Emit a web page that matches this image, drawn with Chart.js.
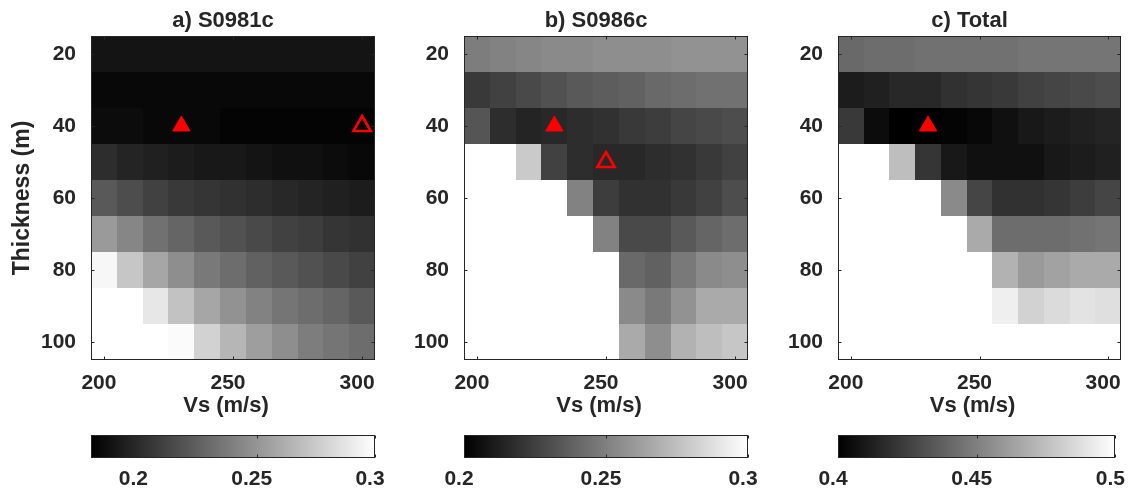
<!DOCTYPE html>
<html>
<head>
<meta charset="utf-8">
<script src="https://cdn.jsdelivr.net/npm/chart.js@4.4.1/dist/chart.umd.min.js"></script>
<style>
  html, body { margin: 0; padding: 0; background: #fff; }
  #wrap { position: relative; width: 1139px; height: 494px; }
  #wrap canvas { position: absolute; left: 0; top: 0; }
</style>
</head>
<body>
<div id="wrap">
  <canvas id="mapA" width="1139" height="494"></canvas>
  <canvas id="mapB" width="1139" height="494"></canvas>
  <canvas id="mapC" width="1139" height="494"></canvas>
  <canvas id="barA" width="1139" height="494"></canvas>
  <canvas id="barB" width="1139" height="494"></canvas>
  <canvas id="barC" width="1139" height="494"></canvas>
</div>
<script>
// grid axes
const vsValues = [200, 210, 220, 230, 240, 250, 260, 270, 280, 290, 300];
const thickValues = [20, 30, 40, 50, 60, 70, 80, 90, 100];
const vsTicks = [200, 250, 300];
const thickTicks = [20, 40, 60, 80, 100];

// misfit per thickness row (top to bottom), one value per Vs column; null = no model
const misfitS0981c = [
  [0.1896, 0.1895, 0.1894, 0.1894, 0.1894, 0.1894, 0.1894, 0.1894, 0.1894, 0.1894, 0.1894],
  [0.1854, 0.1853, 0.1852, 0.1852, 0.1852, 0.1852, 0.1852, 0.1852, 0.1852, 0.1852, 0.1852],
  [0.1871, 0.1861, 0.1856, 0.1847, 0.1838, 0.1833, 0.1828, 0.1824, 0.1824, 0.1824, 0.1824],
  [0.2012, 0.1979, 0.1960, 0.1941, 0.1927, 0.1913, 0.1904, 0.1889, 0.1880, 0.1871, 0.1856],
  [0.2219, 0.2158, 0.2115, 0.2078, 0.2049, 0.2026, 0.2007, 0.1988, 0.1969, 0.1951, 0.1936],
  [0.2525, 0.2426, 0.2341, 0.2275, 0.2224, 0.2176, 0.2148, 0.2115, 0.2082, 0.2054, 0.2031],
  [0.2944, 0.2727, 0.2576, 0.2464, 0.2379, 0.2313, 0.2266, 0.2228, 0.2186, 0.2153, 0.2115],
  [0.3150, 0.3050, 0.2882, 0.2704, 0.2576, 0.2487, 0.2416, 0.2355, 0.2308, 0.2271, 0.2228],
  [0.3300, 0.3200, 0.3050, 0.2967, 0.2784, 0.2652, 0.2548, 0.2464, 0.2393, 0.2346, 0.2308]
];
const misfitS0986c = [
  [0.2486, 0.2506, 0.2522, 0.2533, 0.2541, 0.2549, 0.2557, 0.2561, 0.2565, 0.2569, 0.2573],
  [0.2231, 0.2263, 0.2290, 0.2318, 0.2345, 0.2369, 0.2388, 0.2408, 0.2424, 0.2439, 0.2451],
  [0.2341, 0.2176, 0.2153, 0.2157, 0.2176, 0.2200, 0.2224, 0.2247, 0.2271, 0.2290, 0.2310],
  [null, null, 0.2784, 0.2251, 0.2176, 0.2169, 0.2161, 0.2176, 0.2196, 0.2224, 0.2259],
  [null, null, null, null, 0.2502, 0.2235, 0.2200, 0.2200, 0.2227, 0.2255, 0.2310],
  [null, null, null, null, null, 0.2510, 0.2294, 0.2294, 0.2345, 0.2396, 0.2435],
  [null, null, null, null, null, null, 0.2416, 0.2384, 0.2478, 0.2545, 0.2553],
  [null, null, null, null, null, null, 0.2541, 0.2475, 0.2573, 0.2659, 0.2659],
  [null, null, null, null, null, null, 0.2663, 0.2553, 0.2702, 0.2737, 0.2769]
];
const misfitTotal = [
  [0.4416, 0.4424, 0.4431, 0.4439, 0.4443, 0.4447, 0.4451, 0.4455, 0.4459, 0.4463, 0.4467],
  [0.4114, 0.4137, 0.4157, 0.4169, 0.4192, 0.4212, 0.4231, 0.4251, 0.4267, 0.4282, 0.4298],
  [0.4227, 0.4055, 0.4012, 0.4008, 0.4020, 0.4043, 0.4071, 0.4094, 0.4110, 0.4133, 0.4149],
  [null, null, 0.4745, 0.4208, 0.4094, 0.4075, 0.4067, 0.4078, 0.4098, 0.4118, 0.4137],
  [null, null, null, null, 0.4537, 0.4267, 0.4200, 0.4200, 0.4216, 0.4247, 0.4278],
  [null, null, null, null, null, 0.4667, 0.4431, 0.4424, 0.4424, 0.4451, 0.4467],
  [null, null, null, null, null, null, 0.4690, 0.4608, 0.4627, 0.4671, 0.4659],
  [null, null, null, null, null, null, 0.4937, 0.4824, 0.4855, 0.4878, 0.4863],
  [null, null, null, null, null, null, 0.5211, 0.5017, 0.5095, 0.5130, 0.5077]
];

// colour limits and colorbar ticks
const climS0981c = [0.18, 0.30];
const climS0986c = [0.20, 0.30];
const climTotal = [0.40, 0.50];
const cbTicksS0981c = [0.2, 0.25, 0.3];
const cbTicksS0986c = [0.2, 0.25, 0.3];
const cbTicksTotal = [0.4, 0.45, 0.5];

// best model (filled) and station minimum (open)
const bestModel = [{ x: 230, y: 40 }];
const minS0981c = [{ x: 300, y: 40 }];
const minS0986c = [{ x: 250, y: 50 }];

const FONT = "'Liberation Sans', Arial, Helvetica, sans-serif";
const INK = '#262626';

function grayFor(v, lo, hi) {
  const m = 64;
  let idx = Math.floor((v - lo) / (hi - lo) * m);
  idx = Math.max(0, Math.min(m - 1, idx));
  const g = Math.round(idx / (m - 1) * 255);
  return 'rgb(' + g + ',' + g + ',' + g + ')';
}

const heatmapPlugin = {
  id: 'heatmap',
  beforeDatasetsDraw(chart, args, opts) {
    const { x, y } = chart.scales;
    const ctx = chart.ctx;
    const dx = (vsValues[1] - vsValues[0]) / 2;
    const dy = (thickValues[1] - thickValues[0]) / 2;
    ctx.save();
    opts.grid.forEach((row, i) => {
      row.forEach((v, j) => {
        if (v === null) return;
        const x0 = Math.round(x.getPixelForValue(vsValues[j] - dx));
        const x1 = Math.round(x.getPixelForValue(vsValues[j] + dx));
        const y0 = Math.round(y.getPixelForValue(thickValues[i] - dy));
        const y1 = Math.round(y.getPixelForValue(thickValues[i] + dy));
        ctx.fillStyle = grayFor(v, opts.clim[0], opts.clim[1]);
        ctx.fillRect(x0, y0, x1 - x0, y1 - y0);
      });
    });
    ctx.restore();
  }
};

const framePlugin = {
  id: 'frame',
  afterDraw(chart, args, opts) {
    const a = chart.chartArea;
    const ctx = chart.ctx;
    const L = Math.round(a.left) + 0.5, R = Math.round(a.right) - 0.5;
    const T = Math.round(a.top) + 0.5, B = Math.round(a.bottom) - 0.5;
    ctx.save();
    ctx.strokeStyle = INK;
    ctx.lineWidth = 1;
    ctx.strokeRect(L, T, R - L, B - T);
    const len = opts.tick || 3;
    ctx.beginPath();
    (chart.scales.x.ticks || []).forEach(t => {
      const px = Math.round(chart.scales.x.getPixelForValue(t.value)) + 0.5;
      ctx.moveTo(px, B); ctx.lineTo(px, B - len);
      ctx.moveTo(px, T); ctx.lineTo(px, T + len);
    });
    if (chart.scales.y.options.display !== false) {
      (chart.scales.y.ticks || []).forEach(t => {
        const py = Math.round(chart.scales.y.getPixelForValue(t.value)) + 0.5;
        ctx.moveTo(L, py); ctx.lineTo(L + len, py);
        ctx.moveTo(R, py); ctx.lineTo(R - len, py);
      });
    }
    ctx.stroke();
    ctx.restore();
  }
};

const panelTextPlugin = {
  id: 'panelText',
  afterDraw(chart, args, opts) {
    const a = chart.chartArea;
    const ctx = chart.ctx;
    const cx = (a.left + a.right) / 2;
    ctx.save();
    ctx.fillStyle = INK;
    ctx.textAlign = 'center';
    ctx.textBaseline = 'alphabetic';
    ctx.font = 'bold 22px ' + FONT;
    ctx.fillText(opts.title, cx - 10, a.top - 9.5);
    ctx.fillText(opts.xlabel, cx - 7, a.bottom + 52);
    ctx.restore();
  }
};

const colorbarPlugin = {
  id: 'colorbar',
  beforeDatasetsDraw(chart) {
    const x = chart.scales.x;
    const a = chart.chartArea;
    const ctx = chart.ctx;
    const grad = ctx.createLinearGradient(x.getPixelForValue(x.min), 0, x.getPixelForValue(x.max), 0);
    grad.addColorStop(0, '#000000');
    grad.addColorStop(1, '#ffffff');
    ctx.save();
    ctx.fillStyle = grad;
    ctx.fillRect(a.left, a.top, a.right - a.left, a.bottom - a.top);
    ctx.restore();
  }
};

function tickFont() {
  return { family: FONT, size: 21, weight: 'bold' };
}

function makeMap(id, grid, clim, markers, pad, yWidth, title, showYTitle) {
  const datasets = [
    {
      data: bestModel, pointStyle: 'triangle', pointRadius: 10,
      backgroundColor: '#ff0000', borderColor: '#ff0000', borderWidth: 1, clip: false
    }
  ];
  if (markers) {
    datasets.push({
      data: markers, pointStyle: 'triangle', pointRadius: 10,
      backgroundColor: 'rgba(0,0,0,0)', borderColor: '#ff0000', borderWidth: 2.6, clip: false
    });
  }
  return new Chart(document.getElementById(id), {
    type: 'scatter',
    data: { datasets },
    options: {
      responsive: false,
      animation: false,
      events: [],
      layout: { padding: pad },
      plugins: {
        legend: { display: false },
        tooltip: { enabled: false },
        heatmap: { grid, clim },
        frame: { tick: 3 },
        panelText: { title, xlabel: 'Vs (m/s)' }
      },
      scales: {
        x: {
          type: 'linear', min: 195, max: 305, position: 'bottom',
          afterBuildTicks: s => { s.ticks = vsTicks.map(v => ({ value: v })); },
          afterFit: s => { s.height = 134; },
          grid: { display: false, drawTicks: false },
          border: { display: false },
          ticks: { font: tickFont(), color: INK, padding: 11, maxRotation: 0, labelOffset: -5 }
        },
        y: {
          type: 'linear', min: 15, max: 105, reverse: true,
          afterBuildTicks: s => { s.ticks = thickTicks.map(v => ({ value: v })); },
          afterFit: s => { s.width = yWidth; },
          grid: { display: false, drawTicks: false },
          border: { display: false },
          ticks: { font: tickFont(), color: INK, padding: 15 },
          title: {
            display: showYTitle, text: 'Thickness (m)', color: INK,
            font: { family: FONT, size: 23, weight: 'bold' }, padding: { top: 9, bottom: 0 }
          }
        }
      }
    },
    plugins: [heatmapPlugin, framePlugin, panelTextPlugin]
  });
}

function makeBar(id, clim, ticks, pad) {
  return new Chart(document.getElementById(id), {
    type: 'scatter',
    data: { datasets: [] },
    options: {
      responsive: false,
      animation: false,
      events: [],
      layout: { padding: pad },
      plugins: { legend: { display: false }, tooltip: { enabled: false }, frame: { tick: 3 } },
      scales: {
        x: {
          type: 'linear', min: clim[0], max: clim[1], position: 'bottom',
          afterBuildTicks: s => { s.ticks = ticks.map(v => ({ value: v })); },
          afterFit: s => { s.height = 36; },
          grid: { display: false, drawTicks: false },
          border: { display: false },
          ticks: {
            font: tickFont(), color: INK, padding: 9, maxRotation: 0, labelOffset: -5,
            callback: v => String(+v.toFixed(3))
          }
        },
        y: { display: false, min: 0, max: 1 }
      }
    },
    plugins: [colorbarPlugin, framePlugin]
  });
}

makeMap('mapA', misfitS0981c, climS0981c, minS0981c,
  { left: 0, right: 764, top: 36, bottom: 0 }, 91, 'a) S0981c', true);
makeMap('mapB', misfitS0986c, climS0986c, minS0986c,
  { left: 404, right: 391, top: 36, bottom: 0 }, 60, 'b) S0986c', false);
makeMap('mapC', misfitTotal, climTotal, null,
  { left: 778, right: 18, top: 36, bottom: 0 }, 60, 'c) Total', false);

makeBar('barA', climS0981c, cbTicksS0981c, { left: 91, right: 764, top: 435, bottom: 0 });
makeBar('barB', climS0986c, cbTicksS0986c, { left: 464, right: 391, top: 435, bottom: 0 });
makeBar('barC', climTotal, cbTicksTotal, { left: 838, right: 18, top: 435, bottom: 0 });
</script>
</body>
</html>
